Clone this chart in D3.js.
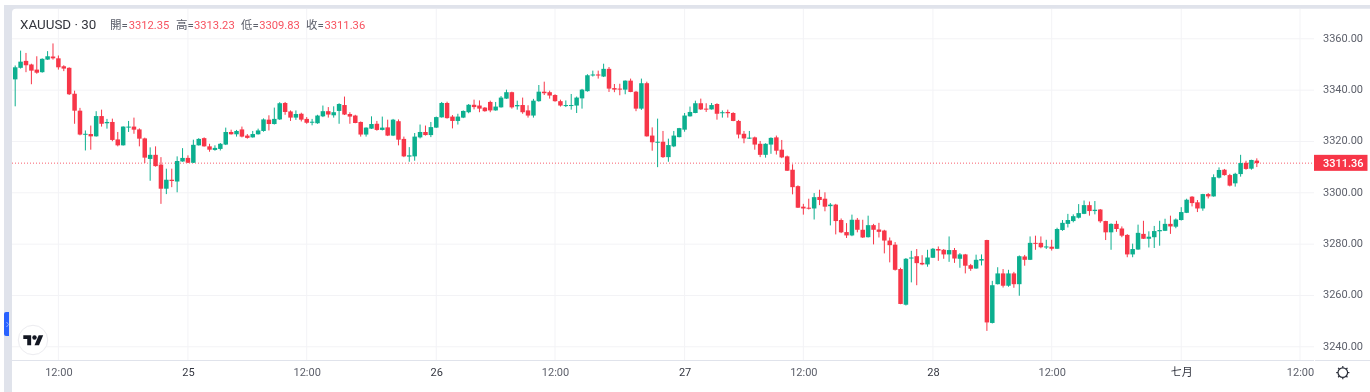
<!DOCTYPE html>
<html><head><meta charset="utf-8">
<script src="https://cdn.jsdelivr.net/npm/d3@7"></script>
<style>
html,body{margin:0;padding:0;background:#fff;overflow:hidden}
text{font-family:Roboto,"Noto Sans CJK TC",sans-serif}
svg{filter:blur(0.3px)}
</style></head><body><svg id="c" width="1370" height="392"></svg>
<script>
const opens=[3344.0,3348.5,3351.2,3349.8,3347.8,3346.8,3351.7,3352.9,3352.2,3349.1,
3348.5,3338.4,3331.8,3322.6,3322.7,3321.8,3329.7,3326.9,3327.4,3320.6,
3318.3,3325.2,3325.6,3324.5,3321.0,3313.0,3314.6,3310.8,3301.4,3304.9,
3304.2,3312.0,3313.4,3311.5,3318.3,3321.1,3317.9,3316.5,3316.9,3318.6,
3323.5,3322.6,3324.5,3322.1,3321.4,3322.6,3323.9,3328.3,3326.6,3328.4,
3334.8,3331.5,3329.1,3330.6,3328.6,3327.1,3326.9,3329.6,3331.6,3330.0,
3331.7,3334.0,3330.5,3329.9,3327.4,3322.5,3324.8,3326.7,3324.3,3325.3,
3322.1,3327.7,3320.8,3313.9,3314.0,3321.4,3323.5,3322.3,3325.2,3329.2,
3334.8,3329.5,3327.8,3329.1,3331.2,3334.1,3333.8,3333.0,3335.2,3331.9,
3333.1,3336.5,3339.0,3333.5,3334.0,3331.9,3329.9,3335.5,3339.2,3339.0,
3337.9,3335.5,3333.6,3333.8,3333.8,3336.6,3339.4,3345.5,3345.9,3345.1,
3348.1,3340.6,3340.4,3340.0,3343.5,3339.2,3332.6,3342.5,3322.1,3319.5,
3319.7,3313.7,3317.9,3321.5,3324.4,3329.6,3330.9,3334.7,3332.6,3332.3,
3334.4,3330.8,3331.3,3330.9,3327.8,3322.8,3320.9,3321.4,3318.9,3314.6,
3318.6,3321.4,3316.6,3314.0,3308.8,3302.4,3294.4,3294.0,3293.7,3298.2,
3297.5,3294.6,3295.2,3289.2,3284.5,3283.2,3289.3,3285.4,3282.5,3287.2,
3285.5,3285.1,3281.2,3279.6,3270.1,3256.2,3274.2,3275.1,3272.5,3271.9,
3274.5,3277.9,3277.6,3275.8,3277.5,3274.1,3275.8,3271.6,3270.3,3273.4,
3281.4,3249.1,3264.2,3268.4,3263.6,3268.4,3264.2,3275.0,3273.7,3280.3,
3280.3,3278.5,3278.8,3278.0,3285.3,3287.7,3288.8,3290.1,3291.6,3295.0,
3292.7,3293.3,3288.8,3284.4,3287.7,3285.9,3283.4,3275.8,3277.7,3283.8,
3281.9,3282.5,3284.8,3285.0,3287.7,3286.6,3289.2,3292.0,3298.3,3296.1,
3293.7,3299.3,3298.4,3305.7,3308.8,3306.7,3303.5,3307.1,3311.5,3309.2,
3312.35];
const highs=[3349.4,3355.2,3354.3,3350.1,3353.0,3352.2,3355.0,3358.0,3353.3,3349.5,
3348.7,3339.6,3332.9,3324.1,3326.0,3331.6,3332.2,3328.6,3328.7,3323.5,
3325.7,3327.8,3329.1,3324.9,3321.3,3317.5,3317.9,3313.7,3309.2,3309.2,
3314.0,3317.2,3314.4,3320.5,3321.1,3321.4,3318.9,3318.3,3319.2,3325.2,
3324.4,3324.3,3325.6,3322.7,3323.9,3324.8,3328.8,3330.0,3333.0,3335.1,
3335.2,3331.9,3331.9,3331.0,3329.3,3328.6,3330.2,3333.8,3333.2,3333.5,
3334.7,3337.3,3331.2,3330.2,3327.6,3325.3,3329.6,3327.8,3329.5,3328.3,
3328.6,3328.4,3321.7,3317.6,3323.1,3326.4,3326.0,3327.4,3329.5,3335.2,
3335.3,3330.1,3330.6,3331.9,3334.4,3336.1,3335.8,3333.2,3335.7,3335.2,
3337.5,3340.0,3339.2,3335.7,3336.9,3333.9,3336.4,3341.8,3343.1,3339.6,
3338.2,3336.1,3335.8,3338.3,3337.3,3340.3,3346.0,3347.4,3347.4,3350.1,
3348.8,3342.2,3342.3,3343.6,3344.3,3339.5,3344.3,3343.1,3325.3,3328.7,
3323.9,3320.9,3323.9,3325.1,3330.9,3333.4,3335.7,3336.5,3334.7,3334.8,
3334.7,3331.9,3332.2,3331.2,3328.2,3323.9,3323.9,3321.7,3320.0,3319.1,
3321.4,3322.1,3320.4,3314.3,3310.9,3302.7,3295.5,3297.5,3299.7,3301.0,
3300.0,3295.8,3295.5,3289.8,3288.0,3291.3,3290.0,3289.3,3290.9,3287.7,
3288.1,3285.4,3282.4,3280.6,3270.6,3274.4,3277.2,3277.9,3275.5,3277.6,
3278.3,3278.9,3277.9,3282.8,3278.3,3276.3,3276.0,3272.1,3275.7,3275.8,
3281.5,3265.5,3270.8,3270.1,3269.8,3269.0,3275.4,3275.6,3282.8,3283.1,
3282.8,3281.5,3281.5,3286.2,3289.2,3291.6,3291.4,3295.4,3296.8,3296.4,
3296.6,3293.5,3288.9,3287.9,3288.9,3286.7,3283.7,3280.0,3287.4,3288.9,
3284.8,3286.9,3288.9,3289.7,3290.9,3289.8,3294.2,3297.5,3298.5,3297.0,
3299.4,3299.7,3307.0,3309.7,3309.1,3307.2,3307.6,3314.6,3312.3,3312.7,
3313.23];
const lows=[3333.5,3348.2,3346.8,3342.1,3346.2,3346.6,3351.6,3351.7,3347.8,3347.2,
3337.9,3326.7,3322.2,3316.3,3316.6,3321.7,3325.6,3324.8,3319.9,3317.9,
3318.2,3323.5,3322.8,3317.9,3311.4,3304.5,3310.0,3295.5,3299.3,3302.0,
3300.0,3311.9,3311.4,3311.4,3318.2,3317.8,3315.8,3316.2,3316.3,3318.4,
3322.5,3321.7,3321.4,3320.9,3321.3,3322.5,3323.6,3324.1,3326.4,3328.2,
3330.2,3327.8,3328.2,3327.6,3326.7,3326.1,3326.7,3329.3,3329.1,3329.1,
3326.7,3330.1,3326.7,3326.9,3321.7,3321.7,3324.7,3324.0,3324.1,3321.9,
3321.9,3318.3,3313.7,3311.9,3312.3,3321.0,3322.1,3321.5,3325.1,3329.1,
3328.7,3324.9,3326.4,3328.9,3330.8,3332.3,3331.2,3331.4,3331.2,3331.8,
3333.0,3336.4,3332.6,3332.2,3330.6,3329.1,3329.1,3335.3,3337.9,3336.5,
3335.3,3333.4,3333.2,3332.2,3330.9,3332.6,3339.2,3345.1,3344.3,3344.9,
3339.1,3339.0,3337.8,3338.2,3339.0,3331.6,3332.1,3321.7,3316.2,3309.8,
3313.4,3311.9,3317.6,3321.4,3323.6,3329.5,3330.8,3332.1,3331.3,3332.2,
3328.3,3329.1,3329.1,3327.7,3321.0,3319.1,3320.8,3316.6,3313.7,3313.5,
3315.0,3314.7,3313.3,3308.3,3299.2,3293.9,3291.3,3293.3,3289.4,3295.0,
3292.6,3287.1,3283.6,3284.1,3282.2,3282.9,3284.4,3282.2,3282.4,3279.7,
3282.4,3276.2,3272.7,3269.5,3256.4,3255.9,3264.9,3263.8,3271.6,3271.0,
3274.4,3273.3,3274.1,3272.9,3272.5,3270.6,3268.4,3269.4,3270.2,3271.5,
3246.0,3248.9,3264.1,3262.9,3263.2,3262.8,3259.7,3271.4,3273.6,3277.6,
3278.2,3277.9,3277.3,3277.9,3285.0,3286.3,3288.3,3289.8,3291.5,3290.9,
3291.4,3288.1,3281.4,3277.6,3284.6,3282.5,3274.7,3274.7,3277.6,3281.8,
3278.5,3278.3,3279.2,3284.9,3283.8,3286.0,3289.0,3291.9,3294.5,3292.3,
3292.8,3297.6,3298.3,3305.4,3306.5,3302.3,3302.2,3306.1,3308.8,3308.8,
3309.83];
const closes=[3348.7,3350.9,3349.5,3347.4,3346.6,3352.0,3353.0,3352.2,3348.7,3348.2,
3338.2,3331.8,3322.5,3322.8,3321.8,3329.7,3326.7,3327.4,3320.4,3318.3,
3325.6,3325.6,3324.4,3320.9,3313.5,3314.6,3310.2,3301.4,3304.9,3304.4,
3312.2,3313.4,3311.5,3318.5,3320.8,3317.9,3316.6,3317.3,3318.9,3323.5,
3322.6,3323.9,3321.7,3321.2,3322.7,3324.1,3328.4,3326.6,3328.6,3334.7,
3331.3,3329.1,3330.5,3328.3,3327.1,3327.5,3329.9,3331.6,3330.3,3331.2,
3334.4,3330.3,3329.5,3327.0,3322.5,3325.2,3326.6,3324.3,3325.2,3322.1,
3328.3,3320.5,3314.0,3314.4,3321.7,3323.5,3322.3,3325.4,3329.3,3334.8,
3328.9,3327.8,3329.5,3331.7,3334.1,3333.2,3332.6,3331.6,3331.9,3333.4,
3336.9,3339.0,3333.1,3334.0,3331.2,3329.9,3335.7,3339.2,3338.6,3337.7,
3335.5,3333.8,3334.0,3334.0,3336.9,3340.0,3345.6,3345.9,3345.5,3348.1,
3340.4,3340.0,3340.1,3343.5,3339.1,3332.6,3342.5,3321.8,3319.5,3319.7,
3313.7,3318.4,3322.1,3325.0,3329.9,3331.3,3334.7,3332.3,3332.2,3334.0,
3330.6,3331.2,3330.8,3327.8,3322.5,3321.0,3321.3,3318.6,3314.6,3318.9,
3321.2,3316.2,3313.6,3308.4,3302.0,3294.0,3293.7,3293.6,3298.1,3297.0,
3294.4,3295.2,3288.8,3284.4,3283.2,3289.3,3285.4,3282.4,3287.2,3285.4,
3284.6,3281.2,3279.4,3269.8,3256.5,3274.1,3274.6,3272.4,3271.9,3274.6,
3278.0,3277.3,3275.8,3277.5,3274.2,3275.8,3271.4,3270.2,3273.7,3274.0,
3249.3,3263.8,3268.4,3263.6,3268.4,3264.2,3275.1,3273.7,3280.3,3280.1,
3278.6,3278.9,3278.0,3285.7,3288.1,3289.2,3290.7,3291.9,3295.0,3292.7,
3293.2,3288.7,3284.4,3287.7,3285.7,3283.1,3275.8,3277.9,3284.2,3281.9,
3282.7,3284.9,3285.3,3287.7,3286.7,3289.4,3292.3,3297.1,3295.8,3293.7,
3299.3,3298.4,3305.9,3308.7,3306.7,3302.6,3307.2,3311.4,3309.1,3312.6,
3311.36];
const priceTicks=[3240,3260,3280,3300,3320,3340,3360];
const timeTickIndex=[8,32,54,78,100,124,146,170,192,216,238];
const timeTickLabels=["12:00","25","12:00","26","12:00","27","12:00","28","12:00","七月","12:00"];
const symbolTitle="XAUUSD · 30";
const ohlcNames=["開=","高=","低=","收="];
const ohlcValues=["3312.35","3313.23","3309.83","3311.36"];
const lastPrice=3311.36;

const UP="#0caf8f",DOWN="#f73648",GRID="#f3f3f6",BAND="#e0e3eb";
const svg=d3.select("#c");
const x=d3.scaleLinear().domain([0,238]).range([15.2,1300]);
const y=d3.scaleLinear().domain([3240,3360]).range([346.3,38.3]);

// frame
svg.append("rect").attr("x",4).attr("y",5).attr("width",1366).attr("height",387).attr("fill",BAND);
svg.append("rect").attr("x",12).attr("y",8.7).attr("width",1370).attr("height",400).attr("rx",4).attr("fill","#fff");

// grid
const grid=svg.append("g");
grid.selectAll(".h").data(priceTicks).join("line").attr("x1",12).attr("x2",1314)
  .attr("y1",d=>y(d)+0.5).attr("y2",d=>y(d)+0.5).attr("stroke",GRID);
grid.selectAll(".v").data(timeTickIndex).join("line").attr("y1",9).attr("y2",360)
  .attr("x1",d=>x(d)).attr("x2",d=>x(d)).attr("stroke",GRID);

// last price line
svg.append("line").attr("x1",12).attr("x2",1314).attr("y1",y(lastPrice)).attr("y2",y(lastPrice))
  .attr("stroke",DOWN).attr("stroke-dasharray","1 2").attr("stroke-width",1).attr("opacity",0.8);

// candles
const idx=d3.range(opens.length);
const candles=svg.append("g");
candles.selectAll(".w").data(idx).join("line")
  .attr("x1",i=>x(i)).attr("x2",i=>x(i)).attr("y1",i=>y(highs[i])).attr("y2",i=>y(lows[i]))
  .attr("stroke",i=>closes[i]>=opens[i]?UP:DOWN).attr("stroke-width",1);
candles.selectAll(".b").data(idx).join("rect")
  .attr("x",i=>x(i)-2.25).attr("width",4.5)
  .attr("y",i=>y(Math.max(opens[i],closes[i])))
  .attr("height",i=>Math.max(1,Math.abs(y(opens[i])-y(closes[i]))))
  .attr("fill",i=>closes[i]>=opens[i]?UP:DOWN);

// axis lines
svg.append("line").attr("x1",12).attr("x2",1314).attr("y1",360.5).attr("y2",360.5).attr("stroke",BAND);
svg.append("line").attr("x1",1315).attr("x2",1370).attr("y1",360.5).attr("y2",360.5).attr("stroke",BAND);

// axes
const yAxis=svg.append("g").attr("transform","translate(1323,-0.8)")
  .call(d3.axisRight(y).tickValues(priceTicks).tickSize(0).tickPadding(0).tickFormat(d3.format(".2f")));
yAxis.select(".domain").remove();
yAxis.selectAll("text").attr("font-size",11).attr("fill","#5d606b").style("font-family","Roboto");

const xAxis=svg.append("g").attr("transform","translate(0,360)")
  .call(d3.axisBottom(x).tickValues(timeTickIndex).tickSize(0).tickPadding(8)
    .tickFormat(d=>timeTickLabels[timeTickIndex.indexOf(d)]));
xAxis.select(".domain").remove();
xAxis.selectAll("text").attr("font-size",11)
  .attr("fill",d=>timeTickLabels[timeTickIndex.indexOf(d)]==="12:00"?"#5d606b":"#333640")
  .style("font-family",'Roboto,"Noto Sans CJK TC"');

// header
svg.append("text").attr("x",20).attr("y",29).attr("font-size",13.4).attr("fill","#33353d").text(symbolTitle);
const nameX=[110,176,241,306],valX=[128.7,194,259.2,324.5];
svg.selectAll(".n").data(ohlcNames).join("text").attr("x",(d,i)=>nameX[i]).attr("y",29)
  .attr("font-size",11.5).attr("fill","#5d606b").text(d=>d);
svg.selectAll(".v").data(ohlcValues).join("text").attr("x",(d,i)=>valX[i]).attr("y",29)
  .attr("font-size",11.2).attr("fill","#f7525f").text(d=>d);

// last price label
svg.append("rect").attr("x",1314).attr("y",y(lastPrice)-8.3).attr("width",53.5).attr("height",16).attr("fill",DOWN);
svg.append("text").attr("x",1323).attr("y",y(lastPrice)+4).attr("font-size",11).attr("font-weight",500).attr("fill","#fff").text(lastPrice.toFixed(2));

// blue tab
svg.append("path").attr("d","M4 314a2 2 0 0 1 2-2h3v24H6a2 2 0 0 1-2-2z").attr("fill","#2962ff");
svg.append("path").attr("d","M6.5 322l2 2.5-2 2.5").attr("fill","none").attr("stroke","#8fb0ff").attr("stroke-width",1);

// logo
svg.append("circle").attr("cx",33).attr("cy",340).attr("r",14.7).attr("fill","#fff").attr("stroke","#ececf0").attr("stroke-width",1);
svg.append("g").attr("transform","translate(23.3,335.2) scale(0.56)")
  .append("path").attr("fill","#131722").attr("d","M14 18H7V7H0V0h14v18zM28 18h-8l7.5-18h8L28 18z");
svg.append("circle").attr("cx",34.5).attr("cy",337.5).attr("r",2.2).attr("fill","#131722");

// gear
const gear=svg.append("g").attr("transform","translate(1342.8,372.6)");
gear.append("circle").attr("r",4.8).attr("fill","none").attr("stroke","#2a2e39").attr("stroke-width",1.2);
gear.selectAll("line").data(d3.range(8)).join("line").attr("x1",0).attr("x2",0).attr("y1",-4.8).attr("y2",-6.6)
  .attr("transform",d=>`rotate(${d*45})`).attr("stroke","#2a2e39").attr("stroke-width",1.2);
</script></body></html>
